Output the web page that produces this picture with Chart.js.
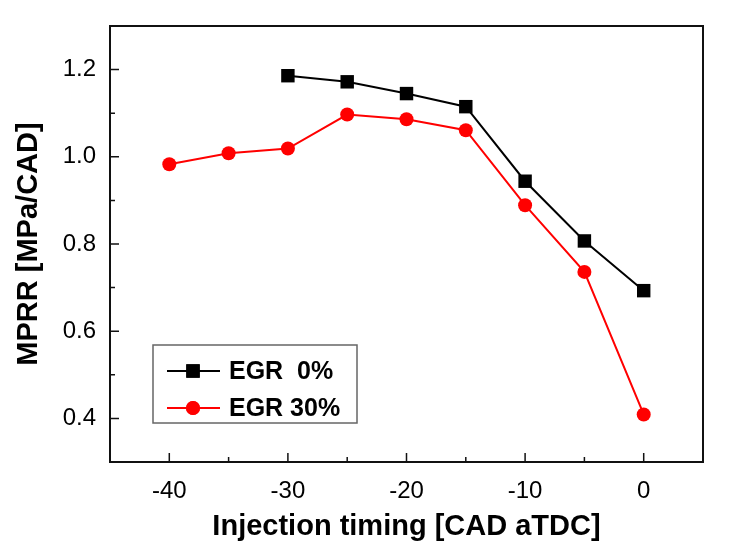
<!DOCTYPE html>
<html>
<head>
<meta charset="utf-8">
<script src="https://cdn.jsdelivr.net/npm/chart.js@4.4.1/dist/chart.umd.min.js"></script>
<style>
  html, body { margin: 0; padding: 0; background: #fff; }
  #wrap { width: 730px; height: 559px; position: relative; }
</style>
</head>
<body>
<div id="wrap"><canvas id="mprrChart"></canvas></div>
<script>
// ---- data ----
const TIMING = [-40, -35, -30, -25, -20, -15, -10, -5, 0];
const EGR0 = [null, null, 1.186, 1.172, 1.145, 1.115, 0.944, 0.807, 0.693];
const EGR30 = [0.983, 1.008, 1.019, 1.097, 1.086, 1.061, 0.889, 0.736, 0.409];

const SERIES_LABELS = ['EGR  0%', 'EGR 30%'];
const X_MAJOR = [-40, -30, -20, -10, 0];
const X_MINOR = [-35, -25, -15, -5];
const Y_MAJOR = [0.4, 0.6, 0.8, 1.0, 1.2];
const Y_MINOR = [0.5, 0.7, 0.9, 1.1];

const X_TITLE = 'Injection timing [CAD aTDC]';
const Y_TITLE = 'MPRR [MPa/CAD]';

const toPoints = (ys) => TIMING.map((x, i) => ({ x: x, y: ys[i] })).filter(p => p.y !== null);

// frame, inward ticks and the boxed legend
const framePlugin = {
    id: 'frame',
    beforeDatasetsDraw(chart) {
        const { ctx, chartArea: a, scales } = chart;
        ctx.save();
        ctx.strokeStyle = '#111';
        ctx.lineWidth = 2;
        ctx.strokeRect(a.left, a.top, a.right - a.left, a.bottom - a.top);
        ctx.lineWidth = 1.5;
        ctx.beginPath();
        X_MAJOR.forEach(v => { const px = scales.x.getPixelForValue(v); ctx.moveTo(px, a.bottom); ctx.lineTo(px, a.bottom - 9); });
        X_MINOR.forEach(v => { const px = scales.x.getPixelForValue(v); ctx.moveTo(px, a.bottom); ctx.lineTo(px, a.bottom - 5); });
        Y_MAJOR.forEach(v => { const py = scales.y.getPixelForValue(v); ctx.moveTo(a.left, py); ctx.lineTo(a.left + 9, py); });
        Y_MINOR.forEach(v => { const py = scales.y.getPixelForValue(v); ctx.moveTo(a.left, py); ctx.lineTo(a.left + 5, py); });
        ctx.stroke();
        ctx.restore();
    },
    afterDraw(chart) {
        const { ctx } = chart;
        const box = { x: 153, y: 345, w: 204, h: 78 };
        ctx.save();
        ctx.fillStyle = '#fff';
        ctx.fillRect(box.x, box.y, box.w, box.h);
        ctx.strokeStyle = '#666';
        ctx.lineWidth = 1.5;
        ctx.strokeRect(box.x, box.y, box.w, box.h);
        const rows = [371, 408];
        chart.data.datasets.forEach((ds, i) => {
            const y = rows[i];
            ctx.strokeStyle = ds.borderColor;
            ctx.lineWidth = ds.borderWidth;
            ctx.beginPath();
            ctx.moveTo(167, y);
            ctx.lineTo(220, y);
            ctx.stroke();
            ctx.fillStyle = ds.pointBackgroundColor;
            Chart.helpers.drawPoint(ctx, { pointStyle: ds.pointStyle, radius: ds.pointRadius, rotation: 0, borderWidth: 0 }, 193, y);
            ctx.fill();
            ctx.fillStyle = '#000';
            ctx.font = 'bold 25px "Liberation Sans", Arial, sans-serif';
            ctx.textBaseline = 'middle';
            ctx.fillText(ds.label, 229, y + 1);
        });
        ctx.restore();
    }
};

const tickFont = { family: '"Liberation Sans", Arial, sans-serif', size: 24 };
const titleFont = { family: '"Liberation Sans", Arial, sans-serif', size: 29, weight: 'bold' };

new Chart(document.getElementById('mprrChart').getContext('2d'), {
    type: 'scatter',
    data: {
        datasets: [
            {
                label: SERIES_LABELS[0],
                data: toPoints(EGR0),
                showLine: true,
                borderColor: '#000',
                borderWidth: 2,
                pointStyle: 'rect',
                pointRadius: 9.5,
                pointBackgroundColor: '#000',
                pointBorderWidth: 0
            },
            {
                label: SERIES_LABELS[1],
                data: toPoints(EGR30),
                showLine: true,
                borderColor: '#ff0000',
                borderWidth: 2,
                pointStyle: 'circle',
                pointRadius: 7,
                pointBackgroundColor: '#ff0000',
                pointBorderWidth: 0
            }
        ]
    },
    options: {
        responsive: true,
        maintainAspectRatio: false,
        animation: false,
        layout: { padding: { top: 26, right: 27, bottom: 0, left: 0 } },
        plugins: { legend: { display: false }, tooltip: { enabled: false } },
        scales: {
            x: {
                type: 'linear',
                min: -45, max: 5,
                grid: { display: false },
                border: { display: false },
                afterBuildTicks: (s) => { s.ticks = X_MAJOR.map(v => ({ value: v })); },
                afterFit: (s) => { s.height = 97; },
                ticks: { color: '#000', font: tickFont, padding: 7, maxRotation: 0 },
                title: { display: true, text: X_TITLE, color: '#000', font: titleFont, padding: { top: 0, bottom: 15 } }
            },
            y: {
                type: 'linear',
                min: 0.3, max: 1.3,
                grid: { display: false },
                border: { display: false },
                afterBuildTicks: (s) => { s.ticks = Y_MAJOR.map(v => ({ value: v })); },
                afterFit: (s) => { s.width = 110; },
                ticks: { color: '#000', font: tickFont, padding: 6, callback: (v) => Number(v).toFixed(1) },
                title: { display: true, text: Y_TITLE, color: '#000', font: titleFont, padding: { top: 12, bottom: 0 } }
            }
        }
    },
    plugins: [framePlugin]
});
</script>
</body>
</html>
